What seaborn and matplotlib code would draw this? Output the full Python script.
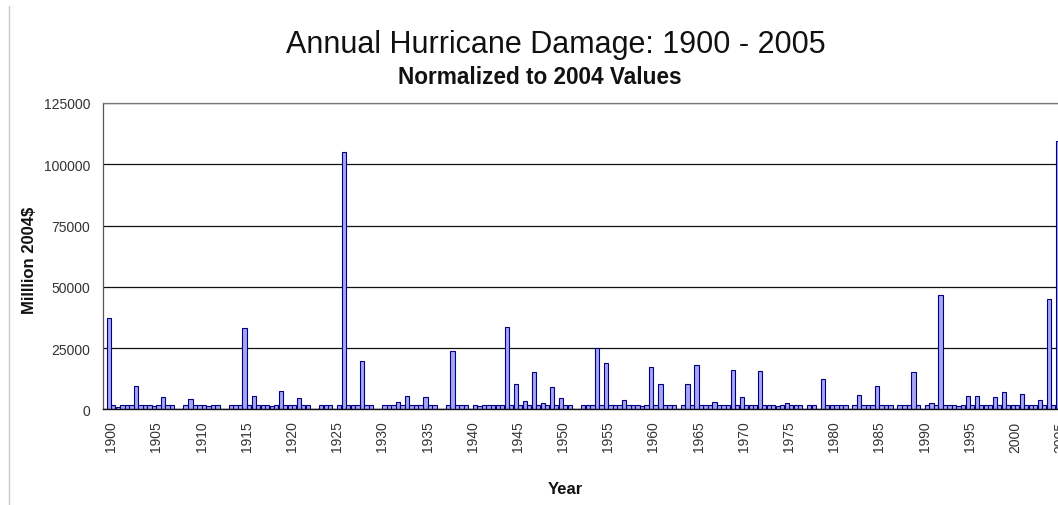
import numpy as np
import pandas as pd
import matplotlib
matplotlib.use("Agg")
import matplotlib.pyplot as plt
import seaborn as sns

# ---- data -------------------------------------------------------------
years = list(range(1900, 2006))

# normalized annual damage, million 2004 $
damage = [
    37400, 1100, 1800, 9400, 1800, 1200, 5200, 1800, 0, 4000,   # 1900-1909
    1800, 1200, 1800, 0, 1800, 33300, 5300, 1800, 1200, 7600,   # 1910-1919
    1800, 4700, 1800, 0, 1800, 0, 105000, 1800, 19600, 1800,    # 1920-1929
    0, 1800, 3100, 5300, 1800, 4900, 1800, 0, 23700, 1800,      # 1930-1939
    0, 1200, 1800, 1800, 33500, 10300, 3500, 15300, 2450, 9000, # 1940-1949
    4500, 1800, 0, 1800, 24900, 18800, 1800, 3700, 1800, 1200,  # 1950-1959
    17300, 10400, 1800, 0, 10400, 18200, 1800, 3100, 1800, 15900,  # 1960-1969
    4900, 1800, 15500, 1800, 1200, 2600, 1800, 0, 1800, 12200,  # 1970-1979
    1800, 1800, 0, 5800, 1800, 9400, 1800, 0, 1800, 15100,      # 1980-1989
    0, 2600, 46800, 1800, 1200, 5300, 5300, 1800, 4900, 7200,   # 1990-1999
    1800, 6100, 1800, 3900, 45000, 109600,                      # 2000-2005
]

# companion series shown beside each year's damage bar
baseline = [
    1800, 1800, 1800, 1800, 1800, 1800, 1800, 0, 1800, 1800,
    1800, 1800, 0, 1800, 1800, 1800, 1800, 1800, 1800, 1800,
    1800, 1800, 0, 1800, 1800, 1800, 1800, 1800, 1800, 0,
    1800, 1800, 1800, 1800, 1800, 1800, 0, 1800, 1800, 1800,
    1800, 1800, 1800, 1800, 1800, 1800, 1800, 1800, 1800, 1800,
    1800, 0, 1800, 1800, 1800, 1800, 1800, 1800, 1800, 1800,
    1800, 1800, 1800, 1800, 1800, 1800, 1800, 1800, 1800, 1800,
    1800, 1800, 1800, 1800, 1800, 1800, 1800, 1800, 0, 1800,
    1800, 1800, 1800, 1800, 1800, 1800, 1800, 1800, 1800, 1800,
    1800, 1800, 1800, 1800, 1800, 1800, 1800, 1800, 1800, 1800,
    1800, 1800, 1800, 1800, 1800, 1800,
]

y_ticks = [0, 25000, 50000, 75000, 100000, 125000]
x_label_years = years[::5]

df = pd.DataFrame({
    "year": years * 2,
    "value": damage + baseline,
    "series": ["damage"] * len(years) + ["baseline"] * len(years),
})

# ---- style ------------------------------------------------------------
sns.set_style("white")
plt.rcParams["font.family"] = ["Liberation Sans", "DejaVu Sans"]

W, H = 1058, 506
fig = plt.figure(figsize=(W / 100, H / 100), dpi=100)
fig.patch.set_facecolor("white")

ax = fig.add_axes([102.7 / W, 95.7 / H, 962 / W, 306.3 / H])

fill = "#9999FF"
edge = "#000080"
sns.barplot(
    data=df, x="year", y="value", hue="series",
    hue_order=["damage", "baseline"], order=years,
    palette=[fill, fill], edgecolor=edge, linewidth=0.8,
    width=0.95, dodge=True, legend=False, ax=ax,
)

ax.set_xlim(-0.94, 105.5)
ax.set_ylim(0, 125000)
ax.set_yticks(y_ticks)
ax.set_yticklabels([str(v) for v in y_ticks], fontsize=10, color="#333333")

ax.set_xticks(range(len(years)))
ax.set_xticklabels([str(y) if y in x_label_years else "" for y in years],
                   rotation=90, fontsize=10, color="#333333")

ax.tick_params(axis="both", direction="out", length=4, width=0.8,
               color="#333333")
ax.tick_params(axis="y", pad=5)
ax.tick_params(axis="x", length=5, pad=3)

ax.yaxis.grid(True, color="#111111", linewidth=0.9)
ax.set_axisbelow(True)

ax.spines["right"].set_visible(False)
ax.spines["top"].set_color("#777777")
ax.spines["top"].set_linewidth(0.9)
ax.spines["left"].set_color("#555555")
ax.spines["left"].set_linewidth(0.9)
ax.spines["bottom"].set_color("#111111")
ax.spines["bottom"].set_linewidth(1.0)

ax.set_xlabel("")
ax.set_ylabel("")

# ---- titles and axis labels ------------------------------------------
fig.text(556 / W, 1 - 45 / H, "Annual Hurricane Damage: 1900 - 2005",
         ha="center", va="center", fontsize=22, color="#111111")
fig.text(540 / W, 1 - 77 / H, "Normalized to 2004 Values",
         ha="center", va="center", fontsize=16.3, fontweight="bold",
         color="#111111")
fig.text(30 / W, 1 - 260 / H, "Milllion 2004$", ha="center", va="center",
         rotation=90, fontsize=12, fontweight="bold", color="#111111")
fig.text(565 / W, 1 - 490 / H, "Year", ha="center", va="center",
         fontsize=12, fontweight="bold", color="#111111")

# chart-area border on the left
fig.add_artist(plt.Line2D([8.5 / W, 8.5 / W], [0, 1 - 7 / H],
                          transform=fig.transFigure, color="#c8c8c8",
                          linewidth=1.0))

fig.savefig("out.png", dpi=100, facecolor="white")
